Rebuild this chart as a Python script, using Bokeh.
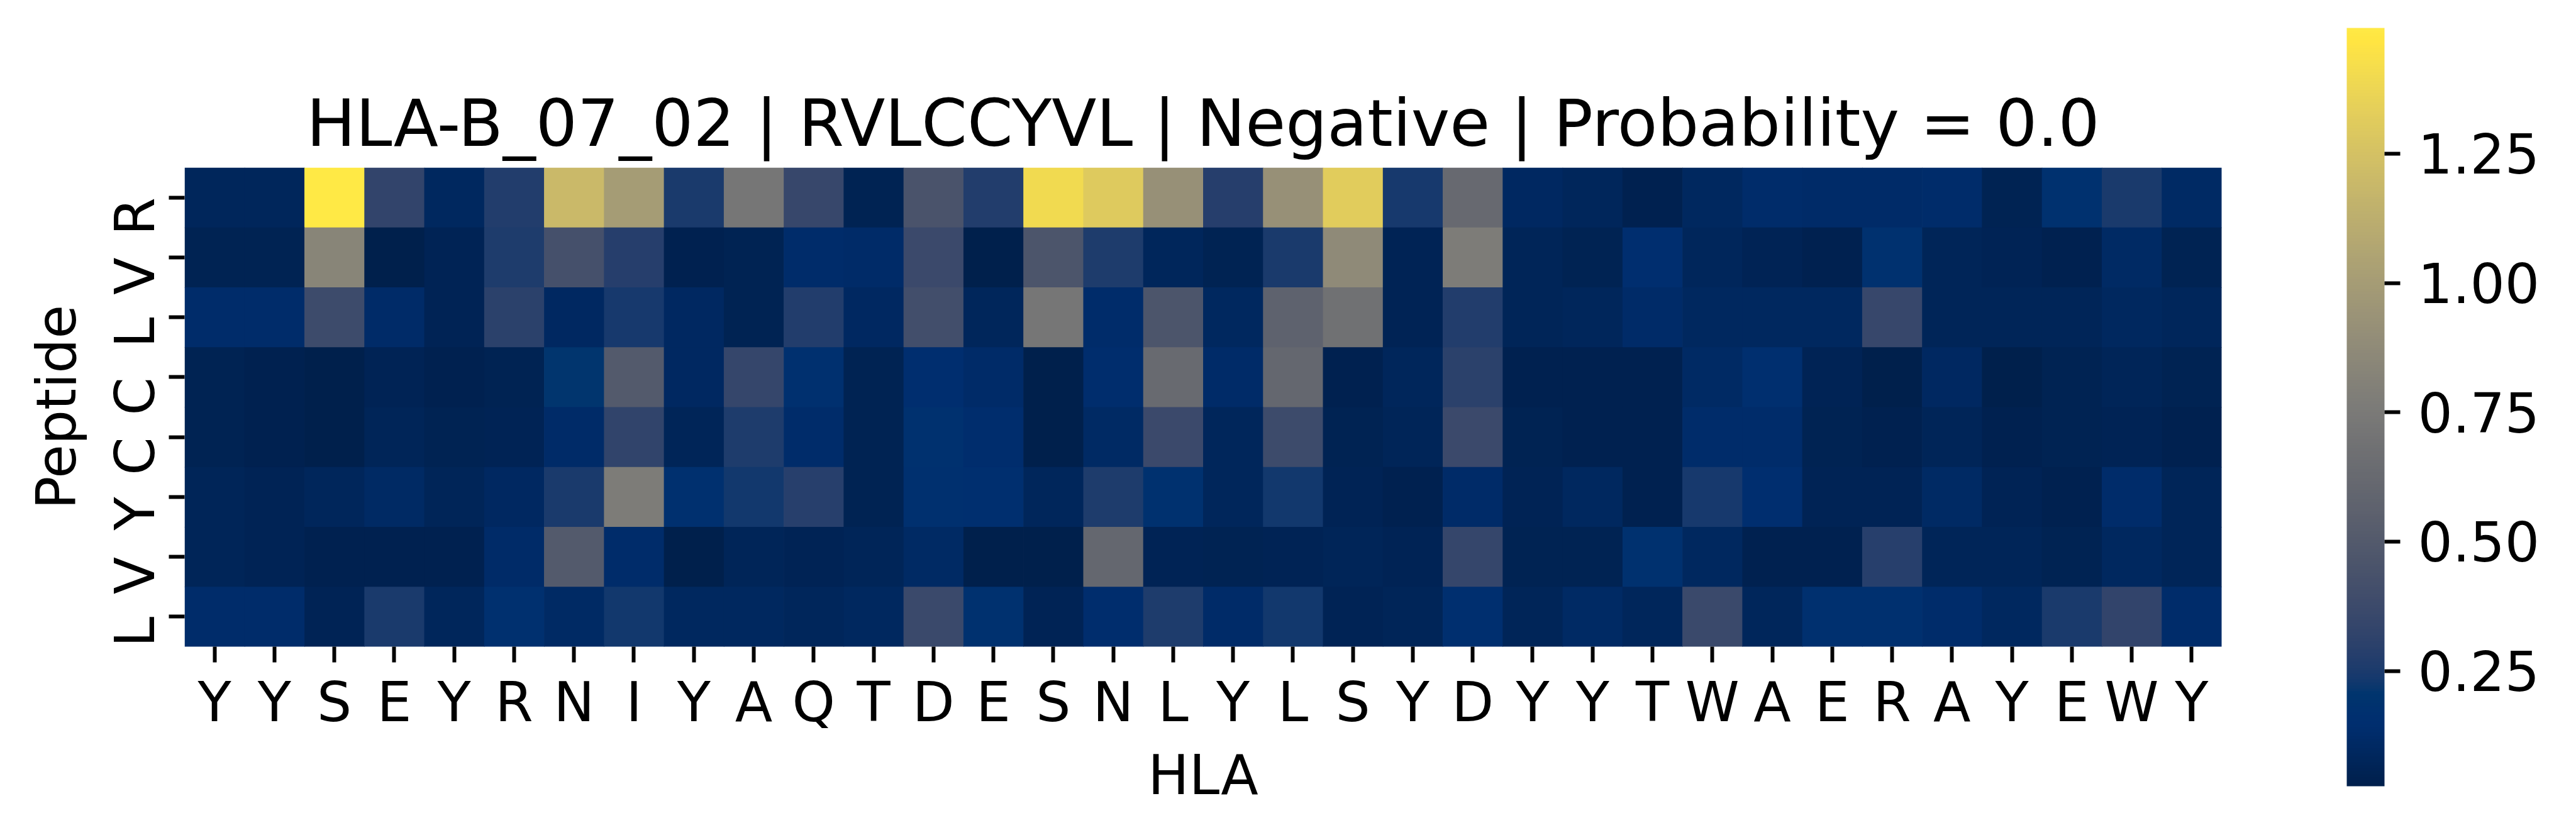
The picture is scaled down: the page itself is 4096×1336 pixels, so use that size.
import numpy as np
from bokeh.plotting import figure
from bokeh.models import (Range1d, LinearColorMapper, FixedTicker, ColumnDataSource,
                          PrintfTickFormatter, ColorBar)
from bokeh.palettes import Cividis256
from bokeh.transform import transform
from bokeh.embed import file_html
from bokeh.resources import INLINE

title_text = "HLA-B_07_02 | RVLCCYVL | Negative | Probability = 0.0"
hla_labels = ["Y", "Y", "S", "E", "Y", "R", "N", "I", "Y", "A", "Q", "T", "D", "E", "S", "N", "L",
              "Y", "L", "S", "Y", "D", "Y", "Y", "T", "W", "A", "E", "R", "A", "Y", "E", "W", "Y"]
peptide_labels = ["R", "V", "L", "C", "C", "Y", "V", "L"]

row_R = [0.08, 0.08, 1.493, 0.33, 0.09, 0.27, 1.2, 1.0, 0.25, 0.72, 0.35,
         0.05, 0.45, 0.27, 1.4, 1.3, 0.92, 0.28, 0.92, 1.32, 0.24, 0.62, 0.1,
         0.08, 0.04, 0.09, 0.13, 0.12, 0.12, 0.13, 0.05, 0.18, 0.25, 0.11]
row_V1 = [0.05, 0.05, 0.83, 0.03, 0.06, 0.26, 0.42, 0.28, 0.04, 0.05, 0.13,
          0.12, 0.37, 0.03, 0.46, 0.26, 0.08, 0.05, 0.25, 0.87, 0.06, 0.77, 0.07,
          0.05, 0.15, 0.08, 0.06, 0.04, 0.18, 0.07, 0.06, 0.04, 0.11, 0.05]
row_L1 = [0.13, 0.13, 0.38, 0.12, 0.06, 0.3, 0.1, 0.24, 0.1, 0.05, 0.27,
          0.1, 0.4, 0.08, 0.72, 0.13, 0.46, 0.09, 0.56, 0.68, 0.06, 0.27, 0.07,
          0.08, 0.12, 0.09, 0.09, 0.09, 0.35, 0.07, 0.07, 0.07, 0.09, 0.08]
row_C1 = [0.05, 0.04, 0.03, 0.06, 0.04, 0.05, 0.21, 0.5, 0.1, 0.34, 0.17,
          0.05, 0.15, 0.12, 0.027, 0.14, 0.63, 0.12, 0.6, 0.04, 0.08, 0.3, 0.04,
          0.04, 0.04, 0.11, 0.16, 0.06, 0.03, 0.1, 0.03, 0.05, 0.07, 0.05]
row_C2 = [0.05, 0.04, 0.03, 0.07, 0.05, 0.06, 0.12, 0.32, 0.07, 0.26, 0.13,
          0.05, 0.18, 0.14, 0.03, 0.11, 0.37, 0.08, 0.38, 0.05, 0.07, 0.37, 0.05,
          0.04, 0.04, 0.13, 0.13, 0.05, 0.04, 0.07, 0.04, 0.05, 0.06, 0.04]
row_Y = [0.07, 0.06, 0.08, 0.11, 0.07, 0.1, 0.25, 0.77, 0.17, 0.23, 0.29,
         0.05, 0.17, 0.16, 0.08, 0.26, 0.18, 0.08, 0.23, 0.06, 0.04, 0.12, 0.06,
         0.09, 0.04, 0.24, 0.15, 0.06, 0.06, 0.11, 0.06, 0.04, 0.13, 0.07]
row_V2 = [0.07, 0.06, 0.04, 0.04, 0.04, 0.12, 0.5, 0.13, 0.03, 0.07, 0.06,
          0.07, 0.11, 0.03, 0.03, 0.6, 0.06, 0.05, 0.06, 0.07, 0.06, 0.34, 0.05,
          0.05, 0.18, 0.09, 0.04, 0.04, 0.29, 0.07, 0.07, 0.05, 0.09, 0.07]
row_L2 = [0.13, 0.13, 0.06, 0.25, 0.08, 0.17, 0.11, 0.23, 0.09, 0.09, 0.08,
          0.09, 0.36, 0.18, 0.06, 0.14, 0.26, 0.12, 0.23, 0.06, 0.07, 0.16, 0.07,
          0.11, 0.08, 0.36, 0.08, 0.17, 0.17, 0.13, 0.09, 0.25, 0.33, 0.13]
value_rows = [row_R, row_V1, row_L1, row_C1, row_C2, row_Y, row_V2, row_L2]

cbar_ticks = [0.25, 0.5, 0.75, 1.0, 1.25]
vmin, vmax = 0.027, 1.493

FONT = "DejaVu Sans"
TICK_FS = "87px"
TITLE_FS = "104px"

mapper = LinearColorMapper(palette=Cividis256, low=vmin, high=vmax)

xs, ys, vs = [], [], []
for r, vals in enumerate(value_rows):
    for c, v in enumerate(vals):
        xs.append(c + 0.5)
        ys.append(r + 0.5)
        vs.append(v)
src = ColumnDataSource(dict(x=xs, y=ys, v=vs))

n_cols = len(hla_labels)
n_rows = len(peptide_labels)

# frame: x 293..3532, y 266..1028 (figure coords)
p = figure(width=4080, height=1320, x_range=Range1d(0, n_cols), y_range=Range1d(n_rows, 0),
           output_backend="svg", toolbar_location=None,
           min_border_left=293, min_border_right=548, min_border_top=266, min_border_bottom=292)
p.rect(x="x", y="y", width=1, height=1, source=src,
       fill_color=transform("v", mapper), line_color=None, dilate=True)

p.grid.visible = False
p.outline_line_color = None

p.title.text = title_text
p.title.text_font = FONT
p.title.text_font_size = TITLE_FS
p.title.text_font_style = "normal"
p.title.text_color = "black"
p.title.align = "center"
p.title.standoff = 20

for ax in (p.xaxis[0], p.yaxis[0]):
    ax.axis_line_color = None
    ax.minor_tick_line_color = None
    ax.major_tick_in = 0
    ax.major_tick_out = 25
    ax.major_tick_line_width = 6
    ax.major_tick_line_color = "black"
    ax.major_label_text_font = FONT
    ax.major_label_text_font_size = TICK_FS
    ax.major_label_text_color = "black"
    ax.axis_label_text_font = FONT
    ax.axis_label_text_font_size = TICK_FS
    ax.axis_label_text_font_style = "normal"
    ax.axis_label_text_color = "black"

p.xaxis.ticker = FixedTicker(ticks=[i + 0.5 for i in range(n_cols)])
p.xaxis.major_label_overrides = {i + 0.5: lab for i, lab in enumerate(hla_labels)}
p.xaxis.axis_label = "HLA"
p.xaxis.major_label_standoff = 12
p.xaxis.axis_label_standoff = 11

p.yaxis.ticker = FixedTicker(ticks=[i + 0.5 for i in range(n_rows)])
p.yaxis.major_label_overrides = {i + 0.5: lab for i, lab in enumerate(peptide_labels)}
p.yaxis.major_label_orientation = np.pi / 2
p.yaxis.axis_label = "Peptide"
p.yaxis.major_label_standoff = 54
p.yaxis.axis_label_standoff = -31

# colour bar: bar x 3731..3791, y 44..1250 (figure coords)
cb = ColorBar(color_mapper=mapper, ticker=FixedTicker(ticks=cbar_ticks),
              formatter=PrintfTickFormatter(format="%.2f"),
              orientation="vertical", width=60, height=1206, padding=10,
              location=(3731 - 293 - 10, -(1250 - 1028) - 10),
              major_tick_in=0, major_tick_out=25, major_tick_line_color="black",
              major_tick_line_width=6, minor_tick_line_color=None,
              major_label_text_font=FONT, major_label_text_font_size=TICK_FS,
              major_label_text_color="black", label_standoff=28,
              bar_line_color=None, border_line_color=None,
              background_fill_color=None, background_fill_alpha=0)
p.add_layout(cb, "center")

open("out.html", "w").write(file_html(p, INLINE))
